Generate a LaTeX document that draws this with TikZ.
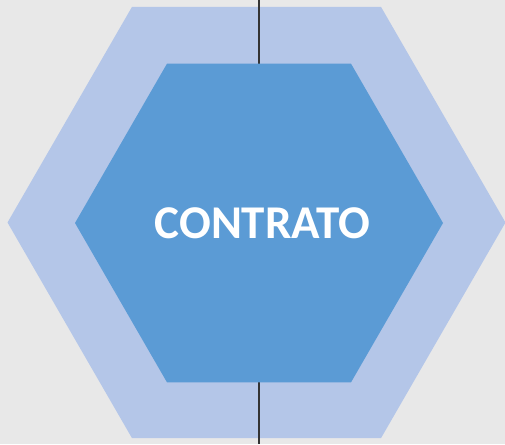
\documentclass[tikz,border=0pt]{standalone}
\usepackage{fontspec}
\setmainfont{Carlito}
\usepackage{xcolor}
\usetikzlibrary{shapes.geometric, positioning}

\definecolor{paperbg}{RGB}{232,232,232}
\definecolor{outerblue}{RGB}{180,198,232}
\definecolor{innerblue}{RGB}{91,155,213}

\begin{document}
\begin{tikzpicture}[
    x=1pt, y=-1pt,
    hexnode/.style={regular polygon, regular polygon sides=6, inner sep=0pt, outer sep=0pt, draw=none},
    axisline/.style={draw=black!80, line width=1.2pt}
]

\fill[paperbg] (0,0) rectangle (505,444);
\useasboundingbox (0,0) rectangle (505,444);

\node[hexnode, minimum size=498pt, fill=outerblue] (outerhex) at (256.5,222.5) {};

\coordinate (linetop) at (259,0);
\coordinate (linebot) at (259,444);
\draw[axisline] (linetop) -- (linebot);

\node[hexnode, minimum size=368pt, fill=innerblue, text=white, font=\fontsize{47}{56}\selectfont\bfseries] (innerhex) at (259,223) {\hspace{7pt}CONTRATO};

\end{tikzpicture}
\end{document}
